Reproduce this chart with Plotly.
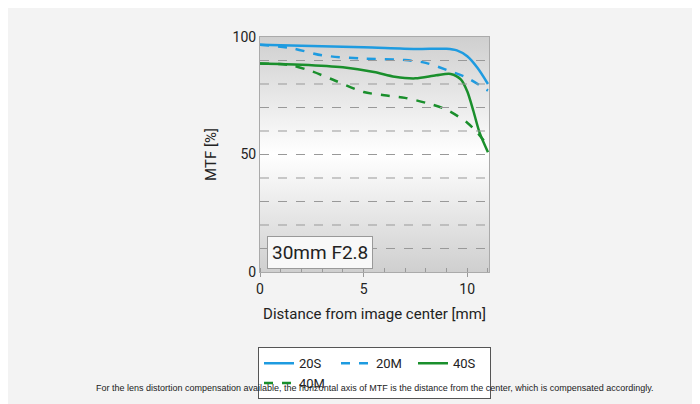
import plotly.graph_objects as go

x20S = [0, 5, 7.5, 9, 9.5, 10, 10.5, 11]
y20S = [96.7, 95.6, 94.9, 95, 94.3, 91.8, 86.8, 80]
x20M = [0, 1.5, 3, 5, 7, 8, 9, 10, 11]
y20M = [96.7, 95.3, 92.2, 90.8, 90.2, 89, 86, 82.6, 77.2]
x40S = [0, 2, 4, 5.5, 6.5, 7.5, 8.5, 9.2, 9.7, 10, 10.3, 10.6, 11]
y40S = [88.7, 88.2, 87.1, 85.1, 83.1, 82.4, 83.7, 84.3, 81.9, 76.9, 68.4, 59.2, 51]
x40M = [0, 1.5, 2.5, 3.5, 5, 6, 7, 8, 9, 10, 10.5, 11]
y40M = [88.7, 88, 85.4, 81.9, 76.6, 75.2, 74.1, 72, 69.1, 63.5, 59.2, 53.5]

blue, green = "#1e9be0", "#1a8f2c"
fig = go.Figure()
fig.add_trace(go.Scatter(x=[0, 11.05, 11.05, 0, 0], y=[0, 0, 100, 100, 0], fill="toself",
    fillgradient=dict(type="vertical", colorscale=[[0, "#cfcfcf"], [0.5, "#ffffff"], [1, "#cfcfcf"]]),
    line=dict(width=0), mode="lines", showlegend=False, hoverinfo="skip"))
for xs, ys, name, c, d in [(x20S, y20S, "20S", blue, "solid"), (x20M, y20M, "20M", blue, "dash"),
                           (x40S, y40S, "40S", green, "solid"), (x40M, y40M, "40M", green, "dash")]:
    fig.add_trace(go.Scatter(x=xs, y=ys, name=name, mode="lines",
                             line=dict(color=c, width=2.5, dash=d, shape="spline", smoothing=0.8)))

fig.add_annotation(x=0.35, y=8.5, xref="x", yref="y", text="30mm F2.8", showarrow=False,
                   xanchor="left", font=dict(size=19, color="#222", family="Roboto"),
                   bgcolor="#f8f8f8", bordercolor="#999", borderwidth=1, borderpad=4)
fig.add_annotation(x=0.5, y=-0.494, xref="paper", yref="paper", xanchor="center", yanchor="middle",
                   text="For the lens distortion compensation available, the horizontal axis of MTF is the distance from the center, which is compensated accordingly.",
                   showarrow=False, font=dict(size=9, color="#222", family="Liberation Sans"))

fig.update_layout(
    width=700, height=404, margin=dict(l=252, r=219, t=29, b=140, autoexpand=False),
    paper_bgcolor="#f3f3f3", plot_bgcolor="#e0e0e0",
    font=dict(family="Roboto", color="#222"),
    xaxis=dict(range=[0, 11.05], tickvals=[0, 5, 10], ticks="outside", ticklen=4, tickcolor="#999",
               showgrid=False, zeroline=False, showline=True, linecolor="#aaa", mirror=True,
               tickfont=dict(size=14), title=dict(text="Distance from image center [mm]", font=dict(size=15), standoff=12),
               minor=dict(dtick=1, ticks="inside", ticklen=4, tickcolor="#999")),
    yaxis=dict(range=[0, 100], tickvals=[0, 50, 100], showgrid=False, zeroline=False,
               showline=True, linecolor="#aaa", mirror=True, tickfont=dict(size=14),
               title=dict(text="MTF [%]", font=dict(size=15), standoff=12)),
    legend=dict(orientation="h", x=0.5, xanchor="center", y=-0.32, yanchor="top",
                bgcolor="white", bordercolor="#555", borderwidth=1, font=dict(size=13),
                entrywidth=32, entrywidthmode="pixels", itemwidth=30, traceorder="normal"),
)
for v in range(10, 100, 10):
    fig.add_shape(type="line", x0=0, x1=11.05, y0=v, y1=v, xref="x", yref="y",
                  line=dict(color="#999", width=1, dash="dash"), layer="above")
fig.write_html("out.html")
